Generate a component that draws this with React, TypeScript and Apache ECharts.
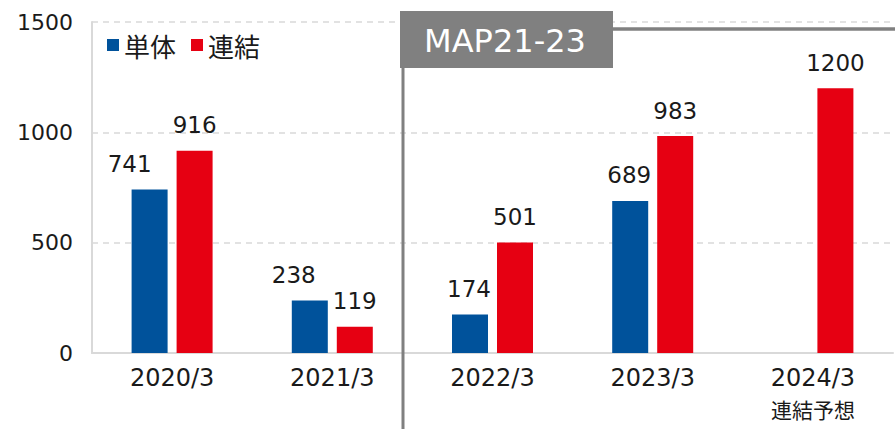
import React, { useEffect, useRef } from "react";
import * as echarts from "echarts";

const categories = ["2020/3", "2021/3", "2022/3", "2023/3", "2024/3"];
const subLabels = ["", "", "", "", "連結予想"];
const tanTai = [741, 238, 174, 689, null];
const renketsu = [916, 119, 501, 983, 1200];
const yTicks = [0, 500, 1000, 1500];
const seriesNames = ["単体", "連結"];
const periodTitle = "MAP21-23";

const FONT = "'DejaVu Sans', 'Noto Sans CJK JP', sans-serif";
const CJK = "'Noto Sans CJK JP', 'Noto Sans', sans-serif";

export default function App() {
  const ref = useRef<HTMLDivElement>(null);
  useEffect(() => {
    const chart = echarts.init(ref.current!, null, { renderer: "svg" });
    const labelStyle = {
      show: true,
      position: "top" as const,
      distance: 14,
      fontSize: 23,
      color: "#1a1a1a",
      fontFamily: FONT,
    };
    // the first two single-entity labels are nudged left in the original layout
    const tanTaiShift = [-20, -16, -1, -1, 0];
    chart.setOption({
      animation: false,
      textStyle: { fontFamily: FONT },
      grid: { left: 92, right: 2, top: 22, bottom: 76 },
      legend: {
        left: 107,
        top: 32,
        padding: 0,
        itemWidth: 12,
        itemHeight: 12,
        itemGap: 15,
        icon: "rect",
        textStyle: { fontSize: 26, color: "#1a1a1a", fontFamily: CJK },
        data: seriesNames,
      },
      xAxis: {
        type: "category",
        data: categories,
        axisLine: { lineStyle: { color: "#d9d9d9", width: 2 } },
        axisTick: { show: false },
        axisLabel: {
          margin: 11,
          formatter: (v: string, i: number) =>
            subLabels[i] ? `{a|${v}}\n{b|${subLabels[i]}}` : `{a|${v}}`,
          rich: {
            a: { fontSize: 24, color: "#1a1a1a", fontFamily: FONT, lineHeight: 28 },
            b: { fontSize: 21, color: "#1a1a1a", fontFamily: CJK, lineHeight: 34 },
          },
          verticalAlign: "top",
        },
      },
      yAxis: {
        type: "value",
        min: yTicks[0],
        max: yTicks[yTicks.length - 1],
        interval: 500,
        axisLine: { show: true, lineStyle: { color: "#d9d9d9", width: 2 } },
        axisTick: { show: false },
        axisLabel: {
          fontSize: 22,
          color: "#1a1a1a",
          fontFamily: FONT,
          margin: 19,
          formatter: (v: number) => String(v),
        },
        splitLine: { lineStyle: { color: "#d9d9d9", type: [6, 5], width: 1.5 } },
      },
      series: [
        {
          name: seriesNames[0],
          type: "bar",
          data: tanTai.map((v, i) => ({
            value: v,
            label: { offset: [tanTaiShift[i], 0] },
          })),
          barWidth: 36,
          barGap: "25%",
          itemStyle: { color: "#00529B" },
          label: labelStyle,
        },
        {
          name: seriesNames[1],
          type: "bar",
          data: renketsu,
          barWidth: 36,
          itemStyle: { color: "#E60012" },
          label: labelStyle,
        },
      ],
      graphic: [
        {
          type: "line",
          shape: { x1: 403, y1: 40, x2: 403, y2: 429 },
          style: { stroke: "#808080", lineWidth: 3 },
          z: 10,
        },
        {
          type: "line",
          shape: { x1: 600, y1: 29, x2: 895, y2: 29 },
          style: { stroke: "#808080", lineWidth: 3.5 },
          z: 10,
        },
        {
          type: "rect",
          shape: { x: 400, y: 11, width: 213, height: 57 },
          style: { fill: "#808080" },
          z: 11,
        },
        {
          type: "text",
          x: 505,
          y: 41,
          style: {
            text: periodTitle,
            fill: "#fff",
            fontSize: 32,
            fontFamily: FONT,
            align: "center",
            verticalAlign: "middle",
          },
          z: 12,
        },
      ],
    });
    return () => chart.dispose();
  }, []);
  return <div ref={ref} style={{ width: 895, height: 429, position: "absolute", left: 0, top: 0 }} />;
}
